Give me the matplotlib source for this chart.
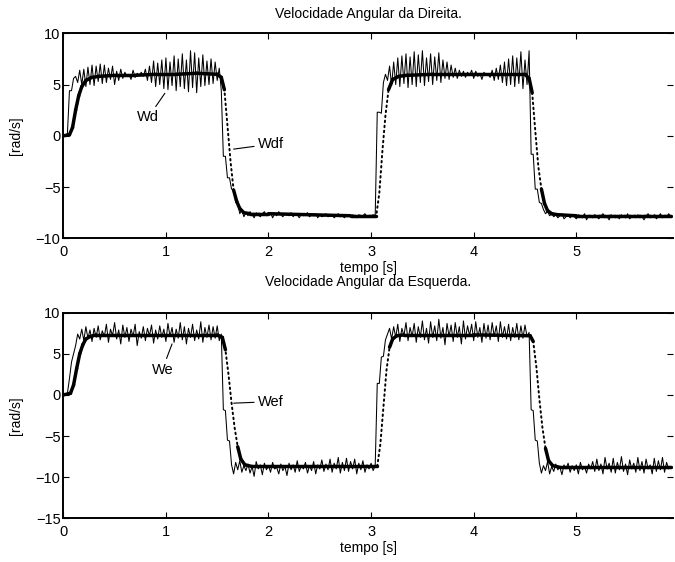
import matplotlib.pyplot as plt
import numpy as np
from matplotlib.collections import LineCollection

plt.rcParams["font.family"] = ["Liberation Sans", "DejaVu Sans"]
plt.rcParams["font.size"] = 10

# sample period of the measured signals
DT = 0.02

# measured right wheel speed (Wd), one value every 0.02 s from t = 0
wd_raw = [
    0.0, 0.1, 0.2, 4.4, 4.4, 5.6, 5.8, 5.2, 6.4, 5.0,
    6.5, 4.8, 6.7, 5.0, 6.9, 4.9, 6.8, 5.3, 7.0, 5.1,
    6.9, 5.2, 6.6, 5.5, 6.8, 5.0, 6.3, 5.4, 6.5, 5.6,
    6.2, 5.8, 6.0, 5.5, 6.4, 5.7, 6.1, 5.9, 6.2, 5.8,
    6.5, 5.4, 6.8, 5.2, 7.3, 4.8, 7.1, 5.0, 7.4, 4.6,
    7.6, 4.5, 7.2, 4.9, 7.8, 4.4, 7.5, 4.8, 8.0, 4.6,
    7.4, 4.3, 8.3, 4.7, 8.1, 4.2, 7.6, 4.8, 7.9, 4.9,
    7.3, 5.0, 7.5, 5.1, 7.2, 5.4, 6.6, 4.4, -2.0, -2.0,
    -4.1, -4.1, -5.2, -5.3, -6.5, -6.6, -7.6, -7.2, -7.9, -7.5,
    -7.8, -7.4, -7.7, -8.0, -7.5, -7.7, -7.9, -7.6, -7.4, -7.8,
    -7.7, -7.5, -8.0, -7.6, -7.8, -7.4, -7.7, -7.9, -7.6, -7.7,
    -7.8, -7.5, -7.9, -7.6, -7.7, -8.0, -7.6, -7.8, -7.7, -7.5,
    -7.9, -7.7, -7.8, -7.6, -8.0, -7.7, -7.9, -7.8, -7.6, -7.9,
    -7.8, -7.7, -8.0, -7.8, -7.6, -7.9, -7.8, -8.0, -7.7, -7.8,
    -7.9, -7.7, -7.8, -8.0, -7.7, -7.9, -7.8, -7.6, -7.9, -7.8,
    -7.8, -7.7, -7.8, 2.3, 2.3, 2.2, 5.2, 6.0, 5.4, 6.8,
    4.9, 7.2, 5.0, 7.6, 4.8, 7.8, 5.1, 8.0, 4.7, 7.7,
    5.0, 8.2, 4.8, 7.9, 5.2, 8.3, 4.9, 7.6, 5.3, 8.0,
    5.0, 7.7, 5.4, 8.1, 5.2, 7.4, 5.6, 7.2, 5.5, 6.9,
    5.7, 6.6, 5.6, 6.4, 5.8, 6.3, 5.7, 6.2, 5.9, 6.4,
    5.6, 6.3, 5.8, 6.1, 5.5, 6.2, 5.9, 6.0, 5.7, 6.4,
    5.4, 6.6, 5.5, 6.9, 5.2, 7.2, 4.9, 7.5, 5.0, 7.8,
    4.8, 7.6, 5.1, 8.2, 4.6, 7.4, 5.0, 8.3, -1.8, -1.8,
    -5.2, -5.2, -6.5, -6.6, -7.2, -7.6, -7.4, -7.8, -7.6, -7.9,
    -7.7, -8.0, -7.8, -7.6, -8.1, -7.9, -7.7, -8.0, -7.8, -7.9,
    -8.1, -7.7, -7.9, -8.0, -7.6, -8.2, -7.8, -7.9, -8.0, -7.7,
    -7.9, -8.1, -7.8, -7.6, -8.0, -7.9, -8.2, -7.7, -7.9, -8.0,
    -7.8, -8.1, -7.7, -7.9, -8.0, -7.6, -8.1, -7.9, -7.8, -8.0,
    -7.7, -8.0, -7.9, -8.2, -7.8, -7.6, -8.0, -7.9, -7.7, -8.1,
    -7.9, -7.6, -8.0, -7.8, -7.9, -7.6, -7.9,
]

# filtered right wheel speed (Wdf)
wdf_t = [0, 0.06, 0.09, 0.12, 0.15, 0.18, 0.22, 0.28, 0.35, 0.5, 0.7, 0.9, 1.1, 1.3,
         1.5, 1.54, 1.57, 1.60, 1.63, 1.66, 1.69, 1.72, 1.76, 1.82, 2.0, 2.4, 2.8,
         3.05, 3.08, 3.11, 3.14, 3.17, 3.21, 3.27, 3.35, 3.6, 4.0, 4.3, 4.5, 4.54,
         4.57, 4.60, 4.63, 4.66, 4.69, 4.72, 4.76, 4.82, 5.0, 5.4, 5.92]
wdf = [0.0, 0.1, 0.8, 2.5, 3.9, 4.8, 5.4, 5.7, 5.8, 5.9, 5.9, 6.0, 6.0, 6.1,
       6.0, 5.7, 4.5, 1.0, -2.5, -5.3, -6.4, -7.1, -7.5, -7.6, -7.6, -7.7, -7.8,
       -7.8, -5.6, -1.5, 2.0, 4.5, 5.5, 5.8, 5.9, 6.0, 6.0, 6.0, 6.0, 5.6,
       4.2, 0.5, -3.0, -5.2, -6.6, -7.3, -7.6, -7.7, -7.8, -7.8, -7.8]

# measured left wheel speed (We), one value every 0.02 s from t = 0
we_raw = [
    0.0, 0.1, 0.2, 2.0, 4.0, 5.0, 6.0, 7.4, 6.8, 8.0,
    6.6, 8.3, 6.9, 7.9, 6.5, 8.1, 7.0, 8.4, 6.7, 7.8,
    7.1, 8.6, 6.4, 8.0, 7.2, 8.8, 6.8, 7.9, 6.2, 8.5,
    7.0, 8.2, 6.5, 8.0, 7.1, 8.6, 6.0, 7.7, 6.9, 8.3,
    6.6, 8.1, 7.2, 8.5, 6.3, 7.9, 6.8, 8.4, 7.0, 8.0,
    6.5, 8.7, 7.1, 8.2, 6.4, 8.0, 6.9, 8.8, 6.7, 8.3,
    6.2, 8.1, 7.0, 8.6, 6.6, 7.9, 6.8, 8.9, 6.4, 8.2,
    7.0, 8.5, 6.7, 8.3, 6.9, 8.4, 6.6, 7.4, -1.8, -1.9,
    -5.5, -5.6, -8.5, -9.6, -8.2, -9.1, -8.0, -9.4, -8.6, -9.2,
    -8.4, -9.5, -8.7, -9.9, -8.1, -9.0, -8.5, -9.7, -8.3, -9.1,
    -8.6, -9.4, -8.2, -9.0, -8.8, -9.6, -8.4, -9.2, -8.7, -9.8,
    -8.3, -9.1, -8.5, -9.4, -8.0, -9.3, -8.6, -9.0, -8.2, -9.5,
    -8.6, -9.2, -8.1, -9.6, -8.5, -9.0, -7.9, -9.3, -8.4, -9.1,
    -7.8, -9.4, -8.3, -9.0, -7.6, -9.5, -8.2, -9.2, -7.7, -9.3,
    -8.1, -9.0, -7.8, -9.6, -8.3, -9.1, -8.0, -9.4, -8.5, -9.0,
    -8.3, -9.2, -8.6, 1.4, 1.4, 4.6, 4.7, 6.7, 7.4, 8.1,
    6.8, 8.3, 7.0, 8.6, 6.5, 8.1, 7.2, 8.8, 6.6, 8.2,
    7.1, 8.7, 6.4, 8.3, 7.0, 9.0, 6.7, 8.1, 6.3, 8.9,
    7.0, 8.4, 6.6, 9.2, 6.9, 8.2, 6.1, 8.7, 7.1, 8.5,
    6.5, 8.8, 7.0, 8.3, 6.2, 9.0, 6.8, 8.4, 7.2, 8.6,
    6.6, 8.9, 7.0, 8.2, 6.4, 8.7, 6.9, 8.5, 6.7, 8.8,
    7.1, 8.4, 6.5, 8.9, 7.0, 8.3, 6.8, 8.6, 6.6, 8.2,
    7.0, 8.7, 6.7, 8.4, 6.9, 8.5, 7.1, 7.6, -1.8, -1.9,
    -5.5, -5.6, -8.3, -9.5, -8.6, -9.2, -8.1, -9.6, -8.7, -9.3,
    -8.4, -9.1, -8.8, -9.7, -8.5, -9.0, -8.3, -9.4, -8.6, -9.2,
    -8.5, -9.6, -8.2, -9.1, -8.7, -9.5, -8.4, -9.0, -8.1, -9.3,
    -7.8, -9.2, -8.4, -9.6, -7.6, -9.0, -8.3, -9.4, -7.7, -9.5,
    -8.2, -9.1, -7.5, -9.3, -8.4, -9.7, -7.9, -9.0, -8.3, -9.4,
    -7.6, -9.2, -8.1, -9.5, -7.8, -9.0, -8.5, -9.6, -7.7, -9.3,
    -8.0, -9.1, -7.6, -9.4, -8.2, -9.0, -8.7,
]

# filtered left wheel speed (Wef)
wef_t = [0, 0.07, 0.10, 0.13, 0.16, 0.19, 0.22, 0.26, 0.32, 0.5, 1.0, 1.5, 1.55, 1.58,
         1.61, 1.64, 1.67, 1.70, 1.73, 1.77, 1.84, 2.5, 3.06, 3.09, 3.12, 3.15, 3.18,
         3.21, 3.25, 3.32, 3.6, 4.0, 4.55, 4.58, 4.61, 4.64, 4.67, 4.70, 4.73, 4.77,
         4.84, 5.3, 5.92]
wef = [0.0, 0.2, 1.2, 3.2, 5.0, 6.1, 6.8, 7.1, 7.3, 7.3, 7.3, 7.3, 7.0, 5.5,
       2.5, -1.0, -4.0, -6.3, -7.8, -8.5, -8.7, -8.7, -8.7, -6.0, -1.5, 3.0, 5.8,
       6.8, 7.2, 7.3, 7.3, 7.3, 7.2, 6.5, 3.5, -0.5, -4.0, -6.5, -8.0, -8.6,
       -8.8, -8.8, -8.8]

panels = [
    dict(title="Velocidade Angular da Direita.", pad=11, raw=wd_raw, ft=wdf_t, fv=wdf,
         ylim=(-10, 10), yticks=[-10, -5, 0, 5, 10],
         lab1=("Wd", (0.72, 1.4), (0.99, 4.15)), lab2=("Wdf", (1.90, -1.2), (1.66, -1.3))),
    dict(title="Velocidade Angular da Esquerda.", pad=19, raw=we_raw, ft=wef_t, fv=wef,
         ylim=(-15, 10), yticks=[-15, -10, -5, 0, 5, 10],
         lab1=("We", (0.86, 2.6), (1.06, 6.2)), lab2=("Wef", (1.90, -1.3), (1.66, -1.0))),
]

W, H = 675, 562
fig = plt.figure(figsize=(W / 100, H / 100), dpi=100)
boxes = [(63.3, 33.3, 238.3), (63.3, 312.7, 518.3)]
right = 673

for p, (left, top, bottom) in zip(panels, boxes):
    ax = fig.add_axes([left / W, 1 - bottom / H, (right - left) / W, (bottom - top) / H])
    t_raw = np.arange(len(p["raw"])) * DT
    ax.plot(t_raw, p["raw"], color="black", lw=0.75)

    # filtered trace: dotted everywhere, merging into a heavy line where it is flat
    ft = np.asarray(p["ft"])
    fv = np.asarray(p["fv"])
    segs = np.stack([np.column_stack([ft[:-1], fv[:-1]]),
                     np.column_stack([ft[1:], fv[1:]])], axis=1)
    slope = np.abs(np.diff(fv) / np.diff(ft))
    flat = segs[slope < 68]
    ax.add_collection(LineCollection(flat, colors="black", linewidths=2.5,
                                     capstyle="round", joinstyle="round"))
    ax.plot(ft, fv, color="black", lw=1.4, linestyle=(0, (0.8, 1.8)),
            dash_capstyle="round")

    ax.set_xlim(0, (right - left) / 102.6)
    ax.set_ylim(*p["ylim"])
    ax.set_xticks([0, 1, 2, 3, 4, 5])
    ax.set_yticks(p["yticks"])
    ax.tick_params(direction="in", length=4, width=0.8, top=True, right=True,
                   labelsize=10.5)
    ax.tick_params(axis="x", pad=5)
    ax.tick_params(axis="y", pad=2)
    for side in ["left", "bottom", "top"]:
        ax.spines[side].set_linewidth(1.4)
    ax.spines["right"].set_visible(False)

    ax.set_title(p["title"], fontsize=10, pad=p["pad"])
    ax.set_xlabel("tempo [s]", fontsize=10, labelpad=1)
    ax.set_ylabel("[rad/s]", fontsize=10, labelpad=9)

    for text, xy_text, xy in (p["lab1"], p["lab2"]):
        ax.annotate(text, xy=xy, xytext=xy_text, fontsize=10.5,
                    arrowprops=dict(arrowstyle="-", color="black", lw=0.8,
                                    shrinkA=1, shrinkB=0))

fig.savefig("out.png", dpi=100)
plt.close(fig)
